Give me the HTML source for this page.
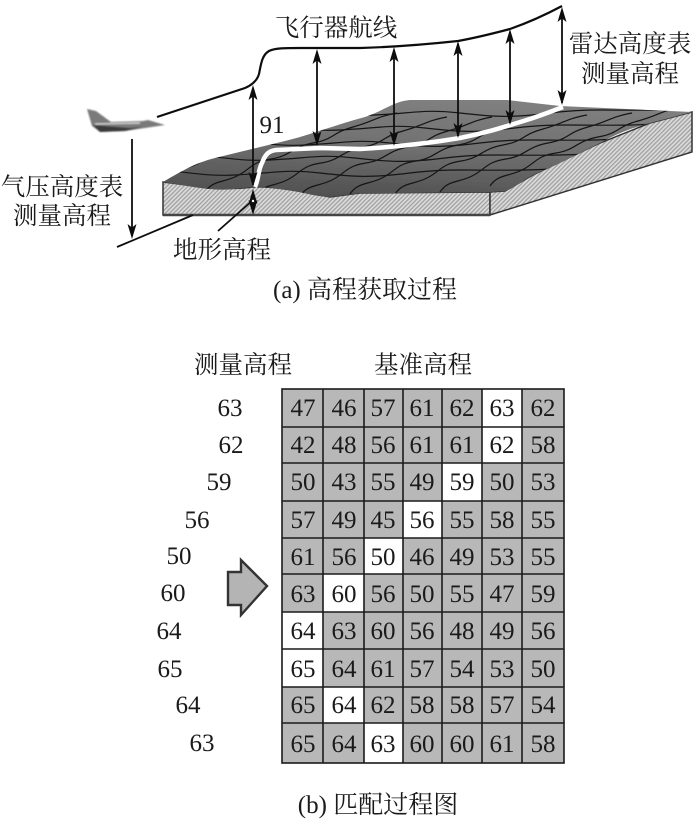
<!DOCTYPE html>
<html><head><meta charset="utf-8"><style>
html,body{margin:0;padding:0;background:#fff}
svg{display:block}
text{font-family:"Liberation Serif","Noto Serif CJK SC",serif;fill:#1a1a1a}
.n{font-size:25px;text-anchor:middle}
.c{font-size:24.5px;text-anchor:middle}
.k{font-size:25px;text-anchor:middle}
</style></head><body>
<svg width="700" height="820" viewBox="0 0 700 820" xmlns="http://www.w3.org/2000/svg">
<defs>
<pattern id="h" width="3" height="3" patternUnits="userSpaceOnUse" patternTransform="rotate(45)"><rect width="3" height="3" fill="#dcdcdc"/><rect width="1.3" height="3" fill="#a0a0a0"/></pattern>
<linearGradient id="t" x1="0.35" y1="1" x2="0.6" y2="0"><stop offset="0" stop-color="#505050"/><stop offset="0.5" stop-color="#707070"/><stop offset="1" stop-color="#808080"/></linearGradient>
<clipPath id="cp"><path d="M163 182 C180 172 195 163 215 158 L285 141 C310 135 335 125 365 117 C385 110 395 101 410 100 L507 100 L560 106 L692 112 L650 123 C625 130 615 135 600 143 L560 163 L533 175 C520 182 515 188 505 191 L490 192 L393 193 L360 193 L330 197 C310 196 300 191 287 190 C272 188 262 186 253 187 C240 188 225 191 210 189 C195 188 178 184 163 182 Z"/></clipPath>
<path id="u" d="M0 0 L4.5 15 L0 11.5 L-4.5 15 Z" fill="#111"/>
<path id="d" d="M0 0 L4.5 -15 L0 -11.5 L-4.5 -15 Z" fill="#111"/>
<filter id="b" x="-20%" y="-20%" width="140%" height="140%"><feGaussianBlur stdDeviation="0.9"/></filter>
<filter id="s" x="-5%" y="-5%" width="110%" height="110%"><feGaussianBlur stdDeviation="0.35"/></filter>
<path id="l" d="M120 186 c30 -3 50 6 90 4 s50 -6 85 -2 s50 5 90 0 s60 -2 115 -3 s60 -6 100 -5" fill="none" stroke="#151515" stroke-width="1.2"/>
<path id="x" d="M0 0 c8 -12 18 -9 32 -16 s14 -14 34 -17 s20 -12 42 -16 s18 -10 40 -16 s22 -10 44 -14" fill="none" stroke="#151515" stroke-width="1.2"/>
</defs>

<g filter="url(#s)">
<path d="M163 182 L163 215 L490 215 L490 192 L360 193 L330 197 C300 191 272 186 253 187 C225 191 195 186 163 182Z" fill="url(#h)" stroke="#333" stroke-width="1.5"/>
<path d="M490 192 L490 215 L692 152 L692 112 L650 123 L600 143 L533 175 L505 191Z" fill="url(#h)" stroke="#333" stroke-width="1.5"/>
<path d="M163 215 L490 215" stroke="#444" stroke-width="2.5"/>
<path d="M163 182 C180 172 195 163 215 158 L285 141 C310 135 335 125 365 117 C385 110 395 101 410 100 L507 100 L560 106 L692 112 L650 123 C625 130 615 135 600 143 L560 163 L533 175 C520 182 515 188 505 191 L490 192 L393 193 L360 193 L330 197 C310 196 300 191 287 190 C272 188 262 186 253 187 C240 188 225 191 210 189 C195 188 178 184 163 182 Z" fill="url(#t)"/>
<g clip-path="url(#cp)">
<use href="#l" transform="translate(25,-15)"/>
<use href="#l" transform="translate(60,-30)"/>
<use href="#l" transform="translate(95,-45)"/>
<use href="#l" transform="translate(130,-60)"/>
<use href="#l" transform="translate(165,-75)"/>
<use href="#x" transform="translate(205,192)"/>
<use href="#x" transform="translate(255,196)"/>
<use href="#x" transform="translate(300,196)"/>
<use href="#x" transform="translate(350,194)"/>
<use href="#x" transform="translate(395,194)"/>
<use href="#x" transform="translate(440,192)"/>
<use href="#x" transform="translate(165,180)"/>
<use href="#x" transform="translate(490,186)"/>
</g>
<path d="M255 187 C259 178 258 170 262 163 C265 155 268 151 276 150 L320 148 L360 149 C395 147 430 143 460 138 C490 132 510 125 530 119 C545 114 555 110 563 107" fill="none" stroke="#fff" stroke-width="4.5"/>
<path d="M157 117 L245 88 C252 85 257 81 259 74 C261 64 262 55 269 51 C275 48 285 48 300 48 L360 48 C395 47 430 44 458 41 C480 37 495 33 510 29 C530 22 547 14 562 6" fill="none" stroke="#111" stroke-width="2.2"/>
<g stroke="#111" stroke-width="1.8" fill="none">
<line x1="253" y1="90" x2="253" y2="185"/>
<line x1="253" y1="192" x2="253" y2="212"/>
<line x1="317" y1="52" x2="317" y2="144"/>
<line x1="394" y1="50" x2="394" y2="144"/>
<line x1="458" y1="44" x2="458" y2="136"/>
<line x1="510" y1="32" x2="510" y2="123"/>
<line x1="562" y1="10" x2="562" y2="103"/>
<line x1="132" y1="139" x2="132" y2="232"/>
<line x1="117" y1="247" x2="193" y2="215"/>
<line x1="218" y1="231" x2="253" y2="200"/>
</g>
<use href="#u" x="253" y="85"/><use href="#d" x="253" y="187"/>
<use href="#u" x="253" y="189"/><use href="#d" x="253" y="215"/>
<use href="#u" x="317" y="49"/><use href="#d" x="317" y="146"/>
<use href="#u" x="394" y="47"/><use href="#d" x="394" y="146"/>
<use href="#u" x="458" y="41"/><use href="#d" x="458" y="138"/>
<use href="#u" x="510" y="29"/><use href="#d" x="510" y="125"/>
<use href="#u" x="562" y="7"/><use href="#d" x="562" y="105"/>
<use href="#d" x="132" y="239"/>
<circle cx="253" cy="201" r="1.6" fill="#fff" stroke="#111" stroke-width="0.8"/>
</g>

<g filter="url(#b)">
<path d="M87 109 L96 111 L111 122 L143 121 L148 120 L165 125 L145 128 L125 131 L100 132 L92 126 Z" fill="#7a7a7a"/>
<path d="M93 125 L130 128 L142 127 L125 131 L100 132Z" fill="#3a3a3a"/>
<path d="M95 124 L140 123" stroke="#ddd" stroke-width="1.2"/>
</g>

<g>
<text x="336" y="36" class="c">飞行器航线</text>
<text x="630" y="52" class="c">雷达高度表</text>
<text x="630" y="82" class="c">测量高程</text>
<text x="272" y="133" class="k">91</text>
<text x="62" y="195" class="c">气压高度表</text>
<text x="62" y="224" class="c">测量高程</text>
<text x="222" y="258" class="c">地形高程</text>
<text x="365" y="298" class="k">(a) 高程获取过程</text>
<text x="243" y="373" class="c">测量高程</text>
<text x="423" y="373" class="c">基准高程</text>
<text x="378" y="813" class="k">(b) 匹配过程图</text>
</g>

<polygon points="228,572 241,572 241,560 267,586 241,615 241,605 228,605" fill="#b4b4b4" stroke="#333" stroke-width="2.4"/>

<g>
<text class="n" x="230" y="416">63</text>
<text class="n" x="231" y="453">62</text>
<text class="n" x="219" y="490">59</text>
<text class="n" x="197" y="528">56</text>
<text class="n" x="179" y="564">50</text>
<text class="n" x="173" y="601">60</text>
<text class="n" x="169" y="639">64</text>
<text class="n" x="170" y="677">65</text>
<text class="n" x="188" y="713">64</text>
<text class="n" x="202" y="751">63</text>
</g>

<rect x="282" y="389" width="282" height="374" fill="#b8b8b8"/>
<g fill="#fff">
<rect x="482" y="389" width="40" height="38"/><rect x="482" y="427" width="40" height="36"/>
<rect x="442" y="463" width="40" height="38"/><rect x="403" y="501" width="39" height="37"/>
<rect x="364" y="538" width="39" height="36"/><rect x="323" y="574" width="41" height="38"/>
<rect x="282" y="612" width="41" height="37"/><rect x="282" y="649" width="41" height="38"/>
<rect x="323" y="687" width="41" height="36"/><rect x="364" y="723" width="39" height="40"/>
</g>
<g stroke="#1a1a1a" stroke-width="1.6" fill="none">
<rect x="282" y="389" width="282" height="374"/>
<path d="M323 389V763M364 389V763M403 389V763M442 389V763M482 389V763M522 389V763"/>
<path d="M282 427H564M282 463H564M282 501H564M282 538H564M282 574H564M282 612H564M282 649H564M282 687H564M282 723H564"/>
</g>
<g>
<text class="n" x="303" y="416">47</text><text class="n" x="344" y="416">46</text><text class="n" x="383" y="416">57</text><text class="n" x="422" y="416">61</text><text class="n" x="462" y="416">62</text><text class="n" x="502" y="416">63</text><text class="n" x="543" y="416">62</text>
<text class="n" x="303" y="453">42</text><text class="n" x="344" y="453">48</text><text class="n" x="383" y="453">56</text><text class="n" x="422" y="453">61</text><text class="n" x="462" y="453">61</text><text class="n" x="502" y="453">62</text><text class="n" x="543" y="453">58</text>
<text class="n" x="303" y="490">50</text><text class="n" x="344" y="490">43</text><text class="n" x="383" y="490">55</text><text class="n" x="422" y="490">49</text><text class="n" x="462" y="490">59</text><text class="n" x="502" y="490">50</text><text class="n" x="543" y="490">53</text>
<text class="n" x="303" y="528">57</text><text class="n" x="344" y="528">49</text><text class="n" x="383" y="528">45</text><text class="n" x="422" y="528">56</text><text class="n" x="462" y="528">55</text><text class="n" x="502" y="528">58</text><text class="n" x="543" y="528">55</text>
<text class="n" x="303" y="565">61</text><text class="n" x="344" y="565">56</text><text class="n" x="383" y="565">50</text><text class="n" x="422" y="565">46</text><text class="n" x="462" y="565">49</text><text class="n" x="502" y="565">53</text><text class="n" x="543" y="565">55</text>
<text class="n" x="303" y="602">63</text><text class="n" x="344" y="602">60</text><text class="n" x="383" y="602">56</text><text class="n" x="422" y="602">50</text><text class="n" x="462" y="602">55</text><text class="n" x="502" y="602">47</text><text class="n" x="543" y="602">59</text>
<text class="n" x="303" y="639">64</text><text class="n" x="344" y="639">63</text><text class="n" x="383" y="639">60</text><text class="n" x="422" y="639">56</text><text class="n" x="462" y="639">48</text><text class="n" x="502" y="639">49</text><text class="n" x="543" y="639">56</text>
<text class="n" x="303" y="677">65</text><text class="n" x="344" y="677">64</text><text class="n" x="383" y="677">61</text><text class="n" x="422" y="677">57</text><text class="n" x="462" y="677">54</text><text class="n" x="502" y="677">53</text><text class="n" x="543" y="677">50</text>
<text class="n" x="303" y="713">65</text><text class="n" x="344" y="713">64</text><text class="n" x="383" y="713">62</text><text class="n" x="422" y="713">58</text><text class="n" x="462" y="713">58</text><text class="n" x="502" y="713">57</text><text class="n" x="543" y="713">54</text>
<text class="n" x="303" y="752">65</text><text class="n" x="344" y="752">64</text><text class="n" x="383" y="752">63</text><text class="n" x="422" y="752">60</text><text class="n" x="462" y="752">60</text><text class="n" x="502" y="752">61</text><text class="n" x="543" y="752">58</text>
</g>
</svg>
</body></html>
